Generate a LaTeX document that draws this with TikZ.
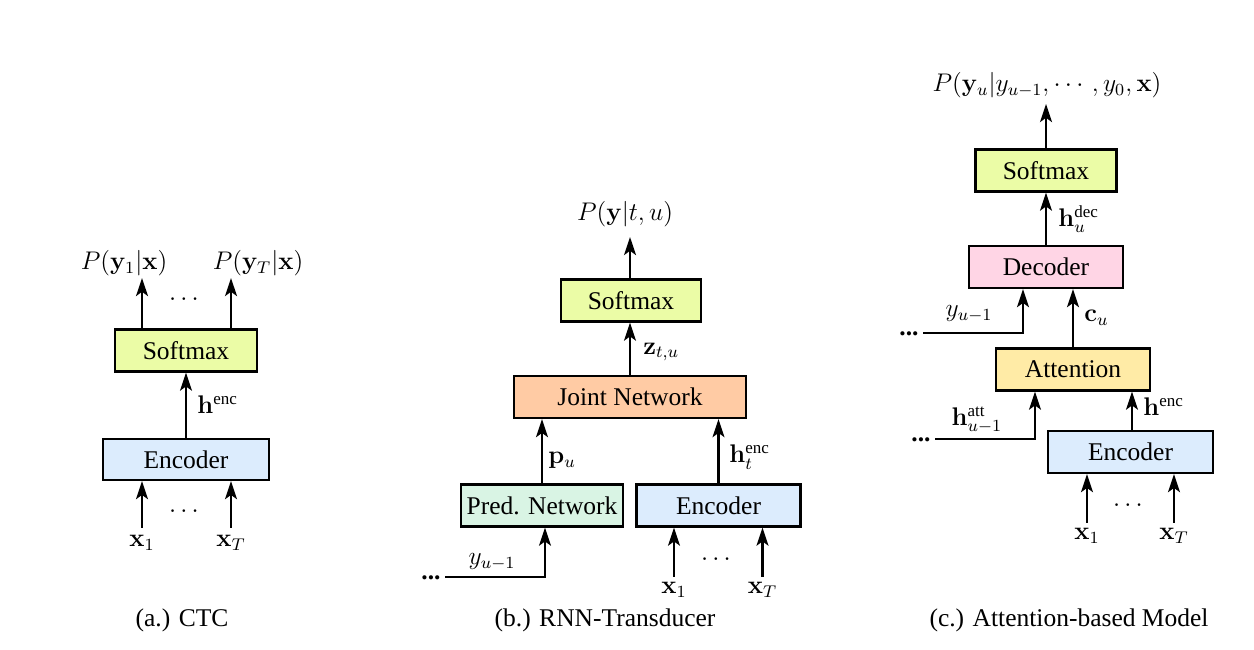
\documentclass[tikz,border=0pt]{standalone}
\usepackage{amsmath}
\usepackage[no-math]{fontspec}
\setmainfont{Liberation Serif}
\usetikzlibrary{arrows.meta}
\definecolor{smcol}{HTML}{EBFCA6}
\definecolor{enccol}{HTML}{DCECFD}
\definecolor{jncol}{HTML}{FFCBA4}
\definecolor{pncol}{HTML}{D9F4E4}
\definecolor{deccol}{HTML}{FFD5E5}
\definecolor{attcol}{HTML}{FFEBA6}
\newdimen\pxu \pxu=0.4706pt
\tikzset{
  box/.style={draw, line width=1.05pt, minimum height={42*\pxu}, inner sep=0pt, font=\large},
  arr/.style={line width=1.05pt, -{Stealth[length=8.5pt,width=5.6pt,inset=2pt]}},
  lbl/.style={inner sep=0pt, font=\large},
}
\begin{document}
\begin{tikzpicture}[x=0.4706pt,y=-0.4706pt]
\useasboundingbox (0,0) rectangle (1254,650);

% ---------- (a) CTC ----------
\node[box, fill=smcol, minimum width={142*\pxu}] (smA) at (186,350.5) {Softmax};
\node[box, fill=enccol, minimum width={166*\pxu}, minimum height={41*\pxu}] (encA) at (186,459.5) {Encoder};
\draw[arr] (encA) -- (smA);
\node[lbl, anchor=west] (hA) at (197,405) {$\mathbf{h}^{\text{enc}}$};
\coordinate (oA1) at (142,278);
\coordinate (oA2) at (231,278);
\draw[arr] (smA.north -| oA1) -- (oA1);
\draw[arr] (smA.north -| oA2) -- (oA2);
\node[lbl] (pA1) at (124,263) {$P(\mathbf{y}_1|\mathbf{x})$};
\node[lbl] (pA2) at (258,263) {$P(\mathbf{y}_T|\mathbf{x})$};
\node[lbl] (dA1) at (186,300) {$\cdots$};
\coordinate (iA1) at (142,528);
\coordinate (iA2) at (231,528);
\draw[arr] (iA1) -- (encA.south -| iA1);
\draw[arr] (iA2) -- (encA.south -| iA2);
\node[lbl] (xA1) at (142,543) {$\mathbf{x}_1$};
\node[lbl] (xA2) at (231,543) {$\mathbf{x}_T$};
\node[lbl] (dA2) at (186,512) {$\cdots$};
\node[lbl] (capA) at (182,620) {(a.) CTC};

% ---------- (b) RNN-Transducer ----------
\node[box, fill=smcol, minimum width={140*\pxu}] (smB) at (631,300.5) {Softmax};
\node[box, fill=jncol, minimum width={232*\pxu}] (jn) at (630,397) {Joint Network};
\node[box, fill=pncol, minimum width={162*\pxu}] (pn) at (542,505.5) {Pred. Network};
\node[box, fill=enccol, minimum width={164*\pxu}] (encB) at (718.5,505.5) {Encoder};
\coordinate (oB) at (630,237);
\draw[arr] (smB.north -| oB) -- (oB);
\node[lbl] (pB) at (625,214) {$P(\mathbf{y}|t,u)$};
\draw[arr] (jn.north -| oB) -- (smB.south -| oB);
\node[lbl, anchor=west] (zB) at (643,352) {$\mathbf{z}_{t,u}$};
\draw[arr] (pn) -- (pn |- jn.south);
\node[lbl, anchor=west] (puB) at (548,460) {$\mathbf{p}_u$};
\draw[arr] (encB) -- (encB |- jn.south);
\node[lbl, anchor=west] (htB) at (729,457) {$\mathbf{h}_t^{\text{enc}}$};
\coordinate (yB0) at (445,577);
\coordinate (yB1) at (545,577);
\draw[arr] (yB0) -- (yB1) -- (pn.south -| yB1);
\node[lbl] (dB0) at (431,578) {\textbf{...}};
\node[lbl] (yBl) at (492,562) {$y_{u-1}$};
\coordinate (iB1) at (674,577);
\coordinate (iB2) at (762.5,577);
\draw[arr] (iB1) -- (encB.south -| iB1);
\draw[arr] (iB2) -- (encB.south -| iB2);
\node[lbl] (xB1) at (674,590) {$\mathbf{x}_1$};
\node[lbl] (xB2) at (762.5,590) {$\mathbf{x}_T$};
\node[lbl] (dB2) at (718,560) {$\cdots$};
\node[lbl] (capB) at (605,620) {(b.) RNN-Transducer};

% ---------- (c) Attention-based ----------
\node[box, fill=smcol, minimum width={141*\pxu}] (smC) at (1046,170.5) {Softmax};
\node[box, fill=deccol, minimum width={154*\pxu}] (dec) at (1046,267) {Decoder};
\node[box, fill=attcol, minimum width={154*\pxu}] (att) at (1073,369.5) {Attention};
\node[box, fill=enccol, minimum width={165*\pxu}] (encC) at (1130.5,452) {Encoder};
\coordinate (oC) at (1046,104);
\draw[arr] (smC.north -| oC) -- (oC);
\node[lbl] (pC) at (1047,85) {$P(\mathbf{y}_u|y_{u-1},\cdots,y_0,\mathbf{x})$};
\draw[arr] (dec) -- (smC);
\node[lbl, anchor=west] (hdC) at (1058,219) {$\mathbf{h}_u^{\text{dec}}$};
\coordinate (yC0) at (923,333);
\coordinate (yC1) at (1023,333);
\draw[arr] (yC0) -- (yC1) -- (dec.south -| yC1);
\node[lbl] (dC0) at (909,334) {\textbf{...}};
\node[lbl] (yCl) at (969,314) {$y_{u-1}$};
\coordinate (cC) at (1073,300);
\draw[arr] (att.north -| cC) -- (dec.south -| cC);
\node[lbl, anchor=west] (cuC) at (1084,318) {$\mathbf{c}_u$};
\coordinate (aC0) at (935,439);
\coordinate (aC1) at (1035,439);
\draw[arr] (aC0) -- (aC1) -- (att.south -| aC1);
\node[lbl] (dC1) at (921,440) {\textbf{...}};
\node[lbl] (haC) at (977,420) {$\mathbf{h}_{u-1}^{\text{att}}$};
\coordinate (eC) at (1132,400);
\draw[arr] (encC.north -| eC) -- (att.south -| eC);
\node[lbl, anchor=west] (heC) at (1143,407) {$\mathbf{h}^{\text{enc}}$};
\coordinate (iC1) at (1087,523);
\coordinate (iC2) at (1174,523);
\draw[arr] (iC1) -- (encC.south -| iC1);
\draw[arr] (iC2) -- (encC.south -| iC2);
\node[lbl] (xC1) at (1087,536) {$\mathbf{x}_1$};
\node[lbl] (xC2) at (1174,536) {$\mathbf{x}_T$};
\node[lbl] (dC2) at (1130,506) {$\cdots$};
\node[lbl] (capC) at (1069,620) {(c.) Attention-based Model};
\end{tikzpicture}
\end{document}
